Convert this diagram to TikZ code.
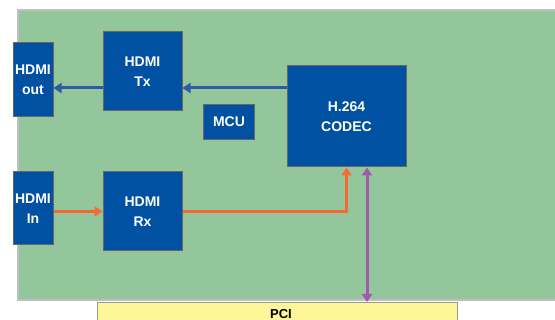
\documentclass[tikz,border=0pt]{standalone}
\usepackage{fontspec}
\setmainfont{Liberation Sans}
\usetikzlibrary{arrows.meta,positioning}
\definecolor{board}{RGB}{147,198,154}
\definecolor{boxblue}{RGB}{0,81,161}
\definecolor{lineblue}{RGB}{46,90,168}
\definecolor{orange}{RGB}{245,106,50}
\definecolor{purple}{RGB}{160,90,170}
\definecolor{pciyellow}{RGB}{255,246,153}
\begin{document}
\begin{tikzpicture}[x=1pt, y=-1pt,
  every node/.style={font=\bfseries\fontsize{14}{20.5}\selectfont, align=center, inner sep=0pt},
  blk/.style={draw=black!60, line width=1pt, fill=boxblue, text=white},
  tip/.style={-{Triangle[length=8pt,width=10pt]}},
  barrow/.style={tip, draw=lineblue, line width=3pt},
  oarrow/.style={tip, draw=orange, line width=3pt},
  parrow/.style={{Triangle[length=8pt,width=10pt]}-{Triangle[length=8pt,width=10pt]}, draw=purple, line width=3pt}]
\useasboundingbox (0,0) rectangle (555,320);
\fill[white] (0,0) rectangle (555,320);
% board
\draw[fill=board, draw=black!25, line width=2pt] (18,10) rectangle (560,300);
\clip (0,0) rectangle (555,320);
\node[draw=black!40, line width=1pt, fill=pciyellow, minimum width=360pt, minimum height=30pt, anchor=north] (pci) at (277,302) {};
\node[font=\bfseries\fontsize{13}{14}\selectfont] (pcitext) at (281,314) {PCI};
% blocks
\node[blk, minimum width=40pt, minimum height=74pt] (out) at (33,80) {HDMI\\out};
\node[blk, minimum width=79pt, minimum height=79pt] (tx) at (142.5,71.5) {HDMI\\Tx};
\node[blk, minimum width=40pt, minimum height=73pt] (in) at (33,208.5) {HDMI\\In};
\node[blk, minimum width=79pt, minimum height=79pt] (rx) at (142.5,211.5) {HDMI\\Rx};
\node[blk, minimum width=51pt, minimum height=35pt] (mcu) at (229,122) {MCU};
\node[blk, minimum width=119pt, minimum height=101pt] (codec) at (346.5,116.5) {H.264\\CODEC};
% connectors
\coordinate (ytx) at (0,88);
\coordinate (xpci) at (367,0);
\draw[barrow] (codec.west |- ytx) -- (tx.east |- ytx);
\draw[barrow] (tx.west |- ytx) -- (out.east |- ytx);
\draw[oarrow] (in.east |- rx.west) -- (rx.west);
\draw[oarrow] (rx.east) -| (codec.south);
\draw[parrow] (codec.south -| xpci) -- (pci.north -| xpci);
\end{tikzpicture}
\end{document}
